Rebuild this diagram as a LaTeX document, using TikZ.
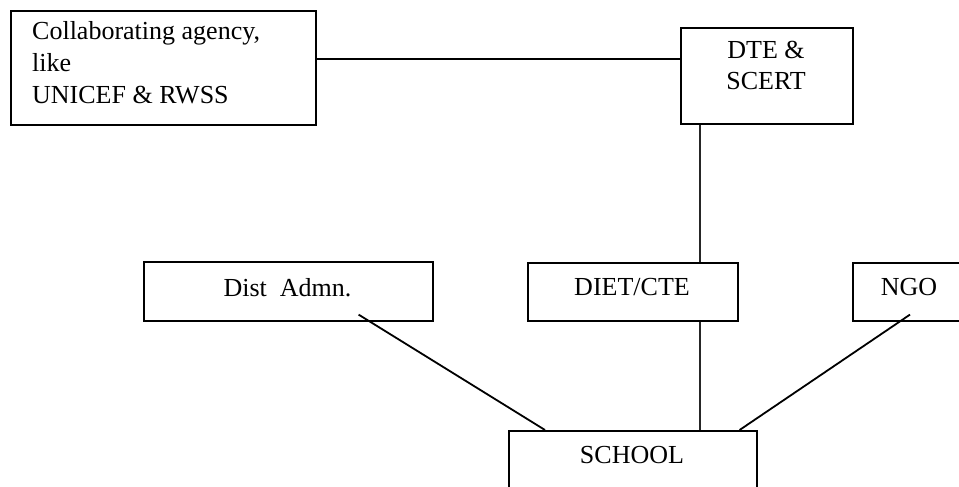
\documentclass[tikz,border=0pt]{standalone}
\usepackage{fontspec}
\setmainfont{Liberation Serif}
\begin{document}
\begin{tikzpicture}[x=1pt,y=-1pt,
  box/.style={draw=black,line width=1.6pt,rectangle,inner sep=0pt},
  lbl/.style={inner sep=0pt,font=\fontsize{26}{32}\selectfont},
  link/.style={draw=black,line width=1.8pt},
  vlink/.style={draw=black!85,line width=1.1pt}]
\clip (0,0) rectangle (959,487);
% boxes
\node[box,anchor=north west,minimum width=305pt,minimum height=114pt] (collab) at (10,10) {};
\node[box,anchor=north west,minimum width=172pt,minimum height=96pt] (dte) at (680,27) {};
\node[box,anchor=north west,minimum width=289pt,minimum height=59pt] (dist) at (143,261) {};
\node[box,anchor=north west,minimum width=210pt,minimum height=58pt] (diet) at (527,262) {};
\node[box,anchor=north west,minimum width=114pt,minimum height=58pt] (ngo) at (852,262) {};
\node[box,anchor=north west,minimum width=248pt,minimum height=90pt] (school) at (508,430) {};
% texts
\node[lbl,anchor=base west,align=left] (tcollab) at (32,103) {Collaborating agency,\\like\\UNICEF \& RWSS};
\node[lbl,anchor=base,align=center] (tdte) at (766,90) {DTE \&\\SCERT};
\node[lbl,anchor=base] (tdist) at (287.5,296) {Dist~~Admn.};
\node[lbl,anchor=base] (tdiet) at (632,295) {DIET/CTE};
\node[lbl,anchor=base] (tngo) at (909,295) {NGO};
\node[lbl,anchor=base] (tschool) at (632,463) {SCHOOL};
% connectors
\draw[link] ([yshift=9pt]collab.east) -- ([yshift=9pt]collab.east -| dte.west);
\coordinate (vx) at ([xshift=20pt]dte.south west);
\draw[vlink] (vx) -- (vx |- diet.north);
\draw[vlink] (vx |- diet.south) -- (vx |- school.north);
\draw[link] ([xshift=-75pt,yshift=7pt]dist.south east) -- ([xshift=37pt]school.north west);
\draw[link] ([xshift=58pt,yshift=7pt]ngo.south west) -- ([xshift=-18pt]school.north east);
\end{tikzpicture}
\end{document}
